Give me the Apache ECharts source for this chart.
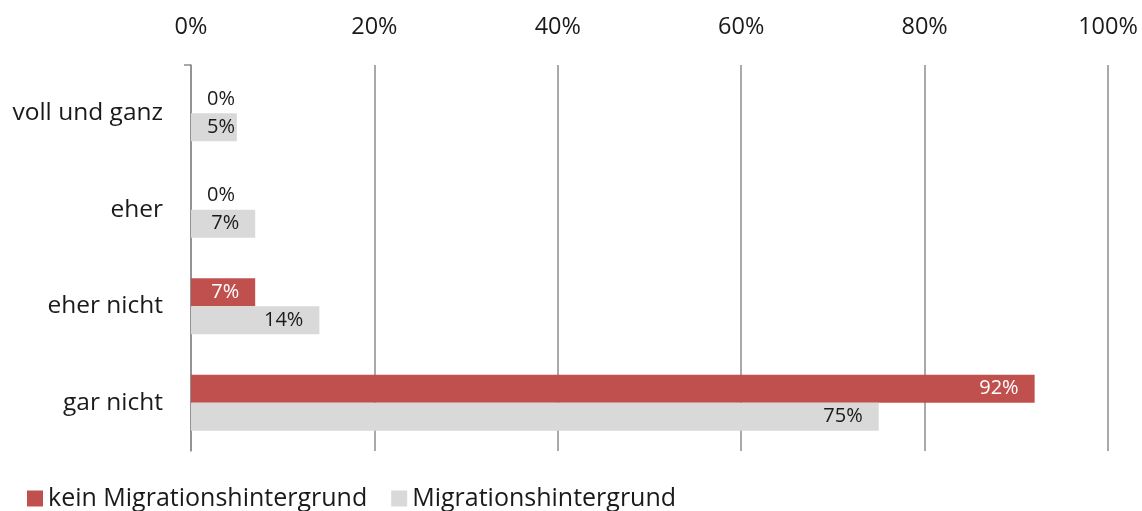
<!DOCTYPE html>
<html>
<head>
<meta charset="utf-8">
<script src="https://cdn.jsdelivr.net/npm/echarts@6/dist/echarts.min.js"></script>
<style>
  html, body { margin: 0; padding: 0; background: #ffffff; }
  #chart { width: 1142px; height: 511px; }
</style>
</head>
<body>
<div id="chart"></div>
<script>
// Zustimmungsstufen (von oben nach unten)
const categories = ['voll und ganz', 'eher', 'eher nicht', 'gar nicht'];
// Anteile in Prozent
const keinMigration = [0, 0, 7, 92];
const mitMigration = [5, 7, 14, 75];
const seriesNames = ['kein Migrationshintergrund', 'Migrationshintergrund'];
const xTicks = [0, 20, 40, 60, 80, 100];

const RED = '#C0504D';
const GREY = '#D9D9D9';
const AXIS_GREY = '#8c8c8c';
const FONT = '"Open Sans", "Noto Sans", sans-serif';

// Short bars cannot hold their label at the end, so it sits near the axis instead.
function labelled(values, insideColor) {
  return values.map(v => {
    const short = v < 6;
    return {
      value: v,
      label: {
        position: short ? 'insideLeft' : 'insideRight',
        distance: 16,
        color: v === 0 ? '#1a1a1a' : insideColor
      }
    };
  });
}

const chart = echarts.init(document.getElementById('chart'), null, { renderer: 'canvas' });
chart.setOption({
  animation: false,
  backgroundColor: '#ffffff',
  textStyle: { fontFamily: FONT },
  grid: { left: 191, right: 34, top: 65, bottom: 60, containLabel: false },
  legend: {
    left: 22,
    top: 481,
    itemWidth: 16,
    itemHeight: 16,
    itemGap: 24,
    icon: 'rect',
    textStyle: { fontFamily: FONT, fontSize: 25, color: '#1a1a1a', padding: [0, 0, 0, 0] },
    data: seriesNames
  },
  xAxis: {
    type: 'value',
    position: 'top',
    min: 0,
    max: 100,
    interval: 20,
    axisLine: { show: false },
    axisTick: { show: false },
    axisLabel: {
      margin: 26,
      fontSize: 23.5,
      color: '#1a1a1a',
      fontFamily: FONT,
      formatter: v => xTicks.includes(v) ? v + '%' : ''
    },
    splitLine: { show: true, lineStyle: { color: AXIS_GREY, width: 1.5 } }
  },
  yAxis: {
    type: 'category',
    inverse: true,
    data: categories,
    axisLine: { show: true, lineStyle: { color: AXIS_GREY, width: 1.5 } },
    axisTick: { show: false },
    axisLabel: { margin: 28, fontSize: 24.5, color: '#1a1a1a', fontFamily: FONT }
  },
  series: [
    {
      name: seriesNames[0],
      type: 'bar',
      barWidth: 28,
      barGap: '0%',
      itemStyle: { color: RED },
      label: { show: true, fontSize: 20, fontFamily: FONT, formatter: '{c}%' },
      data: labelled(keinMigration, '#ffffff')
    },
    {
      name: seriesNames[1],
      type: 'bar',
      barWidth: 28,
      barGap: '0%',
      itemStyle: { color: GREY },
      label: { show: true, fontSize: 20, fontFamily: FONT, formatter: '{c}%' },
      data: labelled(mitMigration, '#1a1a1a')
    }
  ]
});

// Single tick at the top end of the category axis, placed from the axis scale.
const c0 = chart.convertToPixel({ yAxisIndex: 0 }, categories[0]);
const c1 = chart.convertToPixel({ yAxisIndex: 0 }, categories[1]);
const axisTop = c0 - (c1 - c0) / 2;
const axisX = chart.convertToPixel({ xAxisIndex: 0 }, 0);
chart.setOption({
  graphic: [{
    type: 'line',
    shape: { x1: axisX - 7, y1: axisTop, x2: axisX, y2: axisTop },
    style: { stroke: AXIS_GREY, lineWidth: 1.5 },
    silent: true
  }]
});
</script>
</body>
</html>
